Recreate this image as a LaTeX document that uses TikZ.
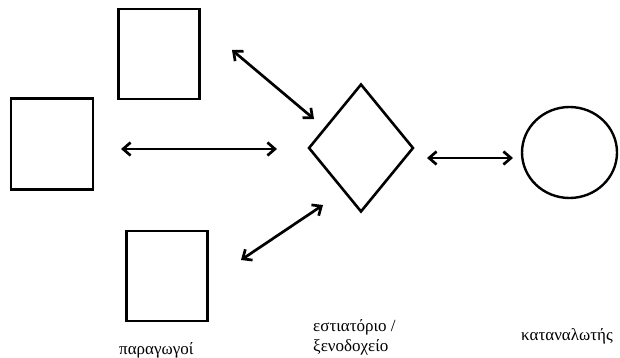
\documentclass[tikz,border=0pt]{standalone}
\usepackage{fontspec}
\setmainfont{Liberation Serif}
\usetikzlibrary{shapes.geometric,arrows.meta}

\tikzset{
  box/.style={draw=black, line width=2.8pt, rectangle, inner sep=0pt},
  link/.style={draw=black, line width=2.7pt,
    {Straight Barb[length=7.5pt,width=13pt]}-{Straight Barb[length=7.5pt,width=13pt]}},
  caption/.style={font=\fontsize{17}{20}\selectfont, inner sep=0pt, align=left}
}

\begin{document}
\begin{tikzpicture}[x=1pt,y=-1pt]
  \useasboundingbox (0,0) rectangle (620,358);

  % producers
  \node[box, minimum width=81pt, minimum height=90pt] (top) at (159,54) {};
  \node[box, minimum width=82pt, minimum height=91pt] (left) at (52,144) {};
  \node[box, minimum width=81pt, minimum height=90pt] (bottom) at (167,276) {};

  % restaurant / hotel
  \node[draw=black, line width=2.6pt, diamond, inner sep=0pt,
        minimum width=105pt, minimum height=128pt] (hub) at (361,148) {};

  % consumers
  \node[draw=black, line width=2.4pt, ellipse, inner sep=0pt,
        minimum width=95pt, minimum height=91pt] (cons) at (569.5,152.5) {};

  % connector end points
  \coordinate (t1) at (232,50);
  \coordinate (t2) at (314,119);
  \coordinate (m1) at (121,149);
  \coordinate (m2) at (277,149);
  \coordinate (b1) at (241,260);
  \coordinate (b2) at (323,205);
  \coordinate (r1) at (427,158);
  \coordinate (r2) at (513,158);

  \draw[link] (t1) -- (t2);
  \draw[link] (m1) -- (m2);
  \draw[link] (b1) -- (b2);
  \draw[link] (r1) -- (r2);

  % labels
  \node[caption, anchor=base west] (lp) at (119,354) {παραγωγοί};
  \node[caption, anchor=base west] (lh) at (313,351) {εστιατόριο /\\ξενοδοχείο};
  \node[caption, anchor=base west] (lc) at (521,340) {καταναλωτής};
\end{tikzpicture}
\end{document}
